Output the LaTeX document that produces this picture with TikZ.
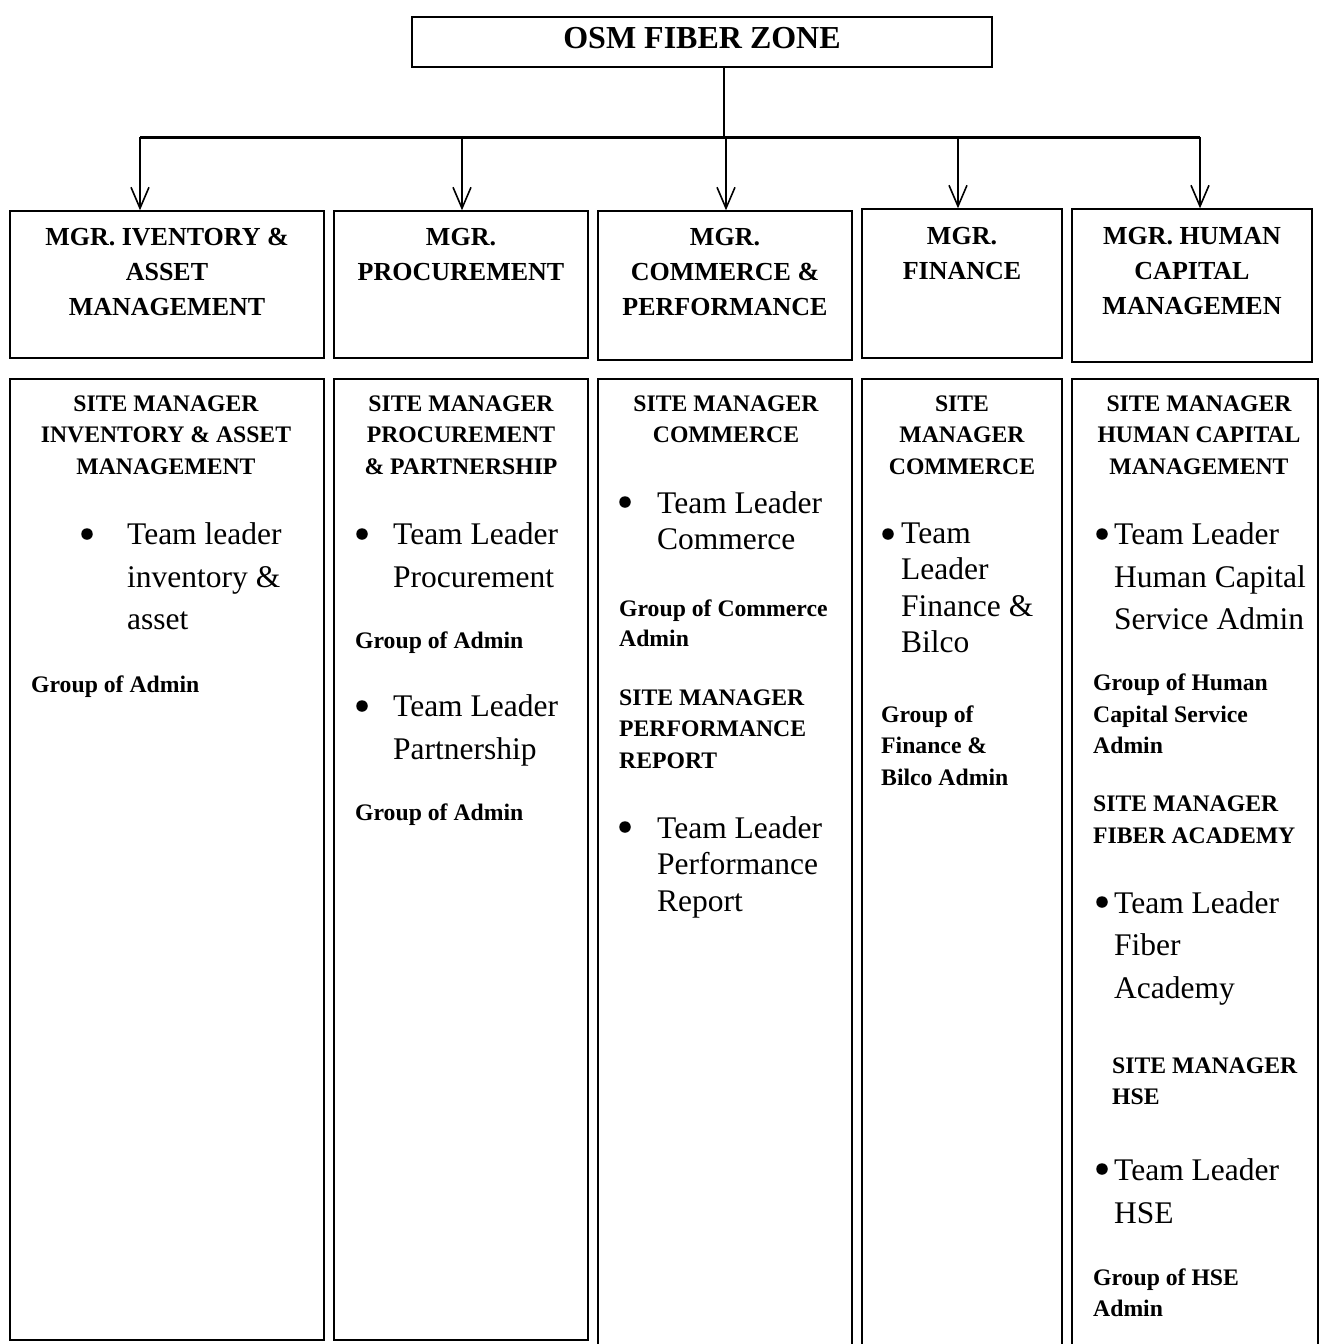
\documentclass[tikz,border=0pt]{standalone}
\usepackage{fontspec}
\setmainfont{Liberation Serif}
\usetikzlibrary{arrows.meta, positioning}

\newcommand\ttlfont{\fontsize{26}{35}\selectfont\bfseries}
\newcommand\smfont{\fontsize{23.7}{31.5}\selectfont\bfseries}
\newcommand\smfontb{\fontsize{23.7}{30}\selectfont\bfseries}
\newcommand\blfont{\fontsize{31.5}{42.5}\selectfont}
\newcommand\blfontb{\fontsize{31.5}{36.5}\selectfont}

\tikzset{
  box/.style={draw, line width=1.4pt, inner sep=0pt},
  ttl/.style={inner sep=0pt, align=center, anchor=north, font=\ttlfont},
  head/.style={inner sep=0pt, align=center, anchor=north, font=\smfont},
  grp/.style={inner sep=0pt, align=left, anchor=north west, font=\smfont},
  item/.style={inner sep=0pt, align=left, anchor=north west, font=\blfont},
  bul/.style={circle, fill, inner sep=0pt, minimum size=11.5pt},
  arr/.style={line width=1.6pt, -{Straight Barb[length=21pt,width=18pt]}},
}

\begin{document}
\begin{tikzpicture}[x=1pt, y=-1pt]
    \useasboundingbox (0,0) rectangle (1334,1344);

    % top box
    \node[box, minimum width=580pt, minimum height=50pt, text depth=8pt,
          font=\fontsize{32}{38}\selectfont\bfseries] (osm) at (702,42) {OSM FIBER ZONE};

    % managers
    \node[box, minimum width=314pt, minimum height=147pt] (m1) at (167,284.5) {};
    \node[box, minimum width=254pt, minimum height=147pt] (m2) at (461,284.5) {};
    \node[box, minimum width=254pt, minimum height=149pt] (m3) at (725,285.5) {};
    \node[box, minimum width=200pt, minimum height=149pt] (m4) at (962,283.5) {};
    \node[box, minimum width=240pt, minimum height=153pt] (m5) at (1192,285.5) {};

    \node[ttl, below=17.4pt of m1.north] (t1) {MGR. IVENTORY \&\\ASSET\\MANAGEMENT};
    \node[ttl, below=17.4pt of m2.north] (t2) {MGR.\\PROCUREMENT};
    \node[ttl, below=17.4pt of m3.north] (t3) {MGR.\\COMMERCE \&\\PERFORMANCE};
    \node[ttl, below=18.4pt of m4.north] (t4) {MGR.\\FINANCE};
    \node[ttl, below=18.4pt of m5.north] (t5) {MGR. HUMAN\\CAPITAL\\MANAGEMEN};

    % connectors
    \coordinate (bus) at (724,137);
    \coordinate (d1) at (140,137);
    \coordinate (d2) at (462,137);
    \coordinate (d3) at (726,137);
    \coordinate (d4) at (958,137);
    \coordinate (d5) at (1200,137);
    \draw[line width=1.8pt] (bus |- osm.south) -- (bus);
    \draw[line width=3pt] (d1) -- (d5);
    \foreach \i in {1,...,5}
        \draw[arr] (d\i) -- (d\i |- m\i.north);

    % sites
    \node[box, minimum width=314pt, minimum height=961pt] (s1) at (167,859.5) {};
    \node[box, minimum width=254pt, minimum height=961pt] (s2) at (461,859.5) {};
    \node[box, minimum width=254pt, minimum height=981pt] (s3) at (725,869.5) {};
    \node[box, minimum width=200pt, minimum height=981pt] (s4) at (962,869.5) {};
    \node[box, minimum width=246pt, minimum height=981pt] (s5) at (1195,869.5) {};

    % inventory
    \node[head] (h1) at (166,395.2) {SITE MANAGER\\INVENTORY \& ASSET\\MANAGEMENT};
    \node[bul] (b1) at (87,534) {};
    \node[item] (i1) at (127,522.6) {Team leader\\inventory \&\\asset};
    \node[grp] (g1) at (31,675.2) {Group of Admin};

    % procurement
    \node[head] (h2) at (461,395.2) {SITE MANAGER\\PROCUREMENT\\\& PARTNERSHIP};
    \node[bul] (b2a) at (362,534) {};
    \node[item] (i2a) at (393,522.6) {Team Leader\\Procurement};
    \node[grp] (g2a) at (355,631.7) {Group of Admin};
    \node[bul] (b2b) at (362,706) {};
    \node[item] (i2b) at (393,694.6) {Team Leader\\Partnership};
    \node[grp] (g2b) at (355,803.7) {Group of Admin};

    % commerce
    \node[head] (h3) at (726,395.2) {SITE MANAGER\\COMMERCE};
    \node[bul] (b3a) at (625,502) {};
    \node[item, font=\blfontb] (i3a) at (657,491.2) {Team Leader\\Commerce};
    \node[grp, font=\smfontb] (g3a) at (619,599.7) {Group of Commerce\\Admin};
    \node[grp] (h3b) at (619,689.2) {SITE MANAGER\\PERFORMANCE\\REPORT};
    \node[bul] (b3b) at (625,827) {};
    \node[item, font=\blfontb] (i3b) at (657,816) {Team Leader\\Performance\\Report};

    % finance
    \node[head] (h4) at (962,395.2) {SITE\\MANAGER\\COMMERCE};
    \node[bul] (b4) at (888,534) {};
    \node[item, font=\blfontb] (i4) at (901,522.6) {Team\\Leader\\Finance \&\\Bilco};
    \node[grp] (g4) at (881,705.2) {Group of\\Finance \&\\Bilco Admin};

    % human capital
    \node[head] (h5) at (1199,395.2) {SITE MANAGER\\HUMAN CAPITAL\\MANAGEMENT};
    \node[bul] (b5a) at (1102,534) {};
    \node[item] (i5a) at (1114,522.6) {Team Leader\\Human Capital\\Service Admin};
    \node[grp] (g5a) at (1093,673.7) {Group of Human\\Capital Service\\Admin};
    \node[grp] (h5b) at (1093,795.7) {SITE MANAGER\\FIBER ACADEMY};
    \node[bul] (b5b) at (1102,902) {};
    \node[item] (i5b) at (1114,891.2) {Team Leader\\Fiber\\Academy};
    \node[grp] (h5c) at (1112,1057.2) {SITE MANAGER\\HSE};
    \node[bul] (b5c) at (1102,1169) {};
    \node[item] (i5c) at (1114,1158.6) {Team Leader\\HSE};
    \node[grp] (g5b) at (1093,1268.2) {Group of HSE\\Admin};
\end{tikzpicture}
\end{document}
